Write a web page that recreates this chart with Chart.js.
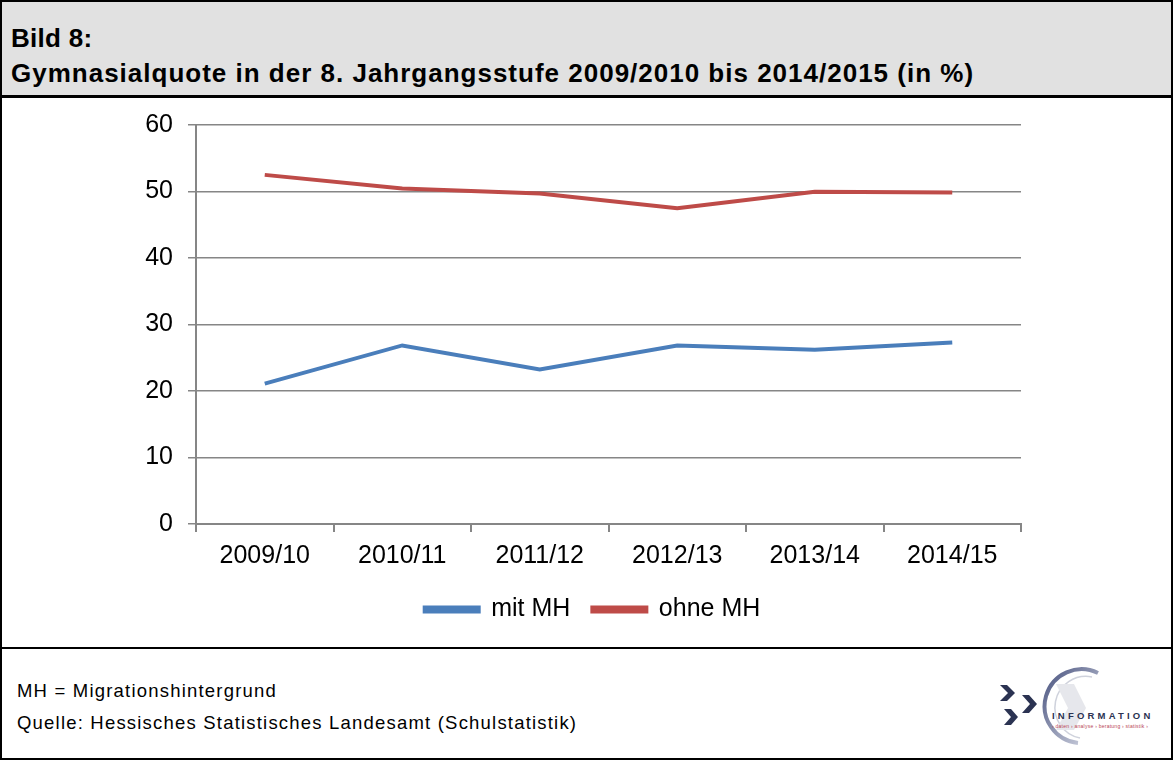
<!DOCTYPE html>
<html>
<head>
<meta charset="utf-8">
<script src="https://cdn.jsdelivr.net/npm/chart.js@4.4.0/dist/chart.umd.min.js"></script>
<style>
body { margin: 0; background: #fff; font-family: "Liberation Sans", Arial, sans-serif; }
#frame { position: relative; width: 1173px; height: 760px; box-sizing: border-box; border: 2px solid #000; overflow: hidden; }
#header { position: absolute; left: 0; top: 0; width: 1169px; height: 93px; background: #e1e1e1; border-bottom: 3px solid #000; }
#header div { position: absolute; left: 9px; font-size: 26px; line-height: 30px; font-weight: bold; color: #000; white-space: nowrap; }
#chart { position: absolute; left: 0; top: 93px; }
#sep { position: absolute; left: 0; top: 645px; width: 1169px; height: 0; border-top: 2px solid #000; }
.note { position: absolute; left: 15px; font-size: 18.5px; letter-spacing: 1.2px; color: #000; white-space: nowrap; }
#logo { position: absolute; left: 990px; top: 662px; }
</style>
</head>
<body>
<div id="frame">
  <div id="header">
    <div style="top: 21px; letter-spacing: 0.3px;">Bild 8:</div>
    <div style="top: 56px; letter-spacing: 1px;">Gymnasialquote in der 8. Jahrgangsstufe 2009/2010 bis 2014/2015 (in %)</div>
  </div>
  <canvas id="chart" width="1181" height="552"></canvas>
  <div id="sep"></div>
  <div class="note" style="top: 678px;">MH = Migrationshintergrund</div>
  <div class="note" style="top: 710px;">Quelle: Hessisches Statistisches Landesamt (Schulstatistik)</div>
  <svg id="logo" width="178" height="92" viewBox="0 0 178 92">
    <defs>
      <linearGradient id="arcg" x1="0" y1="0" x2="1" y2="1">
        <stop offset="0" stop-color="#4a5480"/>
        <stop offset="1" stop-color="#d8dbe6"/>
      </linearGradient>
    </defs>
    <path d="M 86 79 A 37 37 0 1 1 106 9" fill="none" stroke="url(#arcg)" stroke-width="4"/>
    <path d="M 88 74 A 31 31 0 1 1 100 13" fill="none" stroke="#cfd2dc" stroke-width="1.5"/>
    <path d="M 64 20 L 82 20 L 94 44 L 82 66 L 64 66 L 76 44 Z" fill="#e6e7ec"/>
    <path d="M 8 21 L 15 21 L 23 29 L 15 37 L 8 37 L 16 29 Z" fill="#2b3352"/>
    <path d="M 30 31 L 37 31 L 45 40 L 37 49 L 30 49 L 38 40 Z" fill="#2b3352"/>
    <path d="M 12 45 L 19 45 L 26 53 L 19 61 L 12 61 L 19 53 Z" fill="#2b3352"/>
    <text x="60" y="55" font-size="9.5" font-weight="bold" letter-spacing="3.2" fill="#2b3352" font-family="Liberation Sans, Arial">INFORMATION</text>
    <text x="60" y="64" font-size="5" letter-spacing="0.25" fill="#b84455" font-family="Liberation Sans, Arial">› daten › analyse › beratung › statistik ›</text>
  </svg>
</div>
<script>
const years = ['2009/10', '2010/11', '2011/12', '2012/13', '2013/14', '2014/15'];
const mitMH = [21.1, 26.85, 23.25, 26.85, 26.2, 27.3];
const ohneMH = [52.5, 50.45, 49.7, 47.5, 49.95, 49.85];
const yTicks = [0, 10, 20, 30, 40, 50, 60];

const axisGray = '#868686';
const tickFont = { family: '"Liberation Sans", Arial, sans-serif', size: 25 };

new Chart(document.getElementById('chart'), {
    type: 'line',
    data: {
        labels: years,
        datasets: [{
            label: 'mit MH',
            data: mitMH,
            borderColor: '#4a7ebb',
            backgroundColor: '#4a7ebb',
            borderWidth: 4,
            pointRadius: 0,
            tension: 0
        }, {
            label: 'ohne MH',
            data: ohneMH,
            borderColor: '#be4b48',
            backgroundColor: '#be4b48',
            borderWidth: 4,
            pointRadius: 0,
            tension: 0
        }]
    },
    options: {
        responsive: false,
        animation: false,
        layout: { padding: { top: 21, bottom: 15, left: 0, right: 0 } },
        plugins: {
            tooltip: { enabled: false },
            legend: {
                position: 'bottom',
                labels: {
                    boxWidth: 54,
                    boxHeight: 4,
                    padding: 22,
                    color: '#000',
                    font: tickFont
                }
            }
        },
        scales: {
            x: {
                offset: true,
                grid: { display: true, drawOnChartArea: false, offset: true, tickLength: 8, color: axisGray, lineWidth: 2 },
                border: { color: axisGray, width: 2 },
                ticks: { color: '#000', font: tickFont, padding: 9, maxRotation: 0 },
                afterFit: function(scale) { scale.height = 51; }
            },
            y: {
                min: 0,
                max: 60,
                afterBuildTicks: function(scale) { scale.ticks = yTicks.map(v => ({ value: v })); },
                grid: { color: axisGray, lineWidth: 1.5, tickLength: 8 },
                border: { color: axisGray, width: 2 },
                ticks: { color: '#000', font: tickFont, padding: 15 },
                afterFit: function(scale) { scale.width = 194; }
            },
            // empty right-hand box so the plot ends where the reference does
            y2: {
                position: 'right',
                display: true,
                grid: { display: false },
                border: { display: false },
                ticks: { display: false },
                afterFit: function(scale) { scale.width = 162; }
            }
        }
    }
});
</script>
</body>
</html>
